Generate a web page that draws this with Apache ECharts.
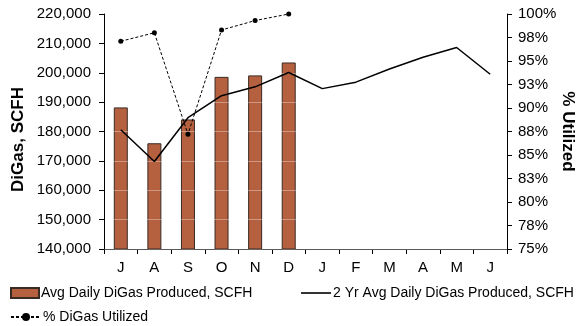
<!DOCTYPE html>
<html><head><meta charset="utf-8">
<script src="https://cdn.jsdelivr.net/npm/echarts@6/dist/echarts.min.js"></script>
<style>html,body{margin:0;padding:0;background:#fff}#c{width:584px;height:326px}</style>
</head><body><div id="c"></div>
<script>
const months = ['J','A','S','O','N','D','J','F','M','A','M','J'];
const avgDaily = [188200, 176000, 184100, 198600, 199100, 203500];
const twoYrAvg = [180600, 169800, 184700, 192200, 195200, 200100, 194600, 196800, 201300, 205300, 208600, 199500];
const pctUtilized = [97.1, 98.0, 87.2, 98.3, 99.3, 100.0];
const leftTicks = {min: 140000, max: 220000, interval: 10000};
const rightTicks = {min: 75, max: 100, interval: 2.5};

const font = 'Liberation Sans, Arial, sans-serif';
const chart = echarts.init(document.getElementById('c'), null, {renderer: 'canvas'});
chart.setOption({
  animation: false,
  textStyle: {fontFamily: font},
  grid: {left: 104, right: 77, top: 14, bottom: 77, containLabel: false, outerBoundsMode: 'none'},
  xAxis: {
    type: 'category', data: months, boundaryGap: true,
    axisLine: {lineStyle: {color: '#000', width: 1}},
    axisTick: {show: true, alignWithLabel: false, length: 5, lineStyle: {color: '#000'}},
    axisLabel: {color: '#000', fontSize: 15, fontFamily: font, margin: 11}
  },
  yAxis: [{
    type: 'value', min: leftTicks.min, max: leftTicks.max, interval: leftTicks.interval, z: 3,
    name: 'DiGas, SCFH', nameLocation: 'middle', nameGap: 77, nameRotate: 90, nameMoveOverlap: false,
    nameTextStyle: {fontWeight: 'bold', fontSize: 17, color: '#000', fontFamily: font, padding: [0, 16, 0, 0]},
    axisLine: {show: true, lineStyle: {color: '#000'}},
    axisTick: {show: true, length: 5, lineStyle: {color: '#000'}},
    axisLabel: {color: '#000', fontSize: 15, fontFamily: font, margin: 13,
      formatter: v => v.toLocaleString('en-US')},
    splitLine: {show: true, lineStyle: {color: 'rgba(255,255,255,0.35)', width: 1}}
  }, {
    type: 'value', min: rightTicks.min, max: rightTicks.max, interval: rightTicks.interval,
    position: 'right',
    name: '% Utilized', nameLocation: 'middle', nameGap: 52, nameRotate: -90, nameMoveOverlap: false,
    nameTextStyle: {fontWeight: 'bold', fontSize: 17, color: '#000', fontFamily: font},
    axisLine: {show: true, lineStyle: {color: '#000'}},
    axisTick: {show: true, length: 5, lineStyle: {color: '#000'}},
    axisLabel: {color: '#000', fontSize: 15, fontFamily: font, margin: 11,
      formatter: v => Math.round(v) + '%'},
    splitLine: {show: false}
  }],
  legend: [{
    left: 5, top: 281, itemWidth: 28, itemHeight: 10, itemGap: 10,
    textStyle: {fontSize: 14, color: '#000', fontFamily: font, padding: [0,0,0,-3]},
    data: [{name: 'Avg Daily DiGas Produced, SCFH', icon: 'rect'}]
  }, {
    left: 296, top: 281, itemWidth: 30, itemHeight: 1.6,
    textStyle: {fontSize: 14, color: '#000', fontFamily: font, padding: [0,0,0,-3]},
    data: [{name: '2 Yr Avg Daily DiGas Produced, SCFH', icon: 'rect'}]
  }, {
    left: 5, top: 305, itemWidth: 30, itemHeight: 10,
    textStyle: {fontSize: 14, color: '#000', fontFamily: font, padding: [0,0,0,-3]},
    data: [{name: '% DiGas Utilized'}]
  }],
  series: [{
    name: 'Avg Daily DiGas Produced, SCFH', type: 'bar', data: avgDaily, barWidth: 14,
    itemStyle: {color: '#B5603F', borderColor: '#3a2a24', borderWidth: 1}, z: 2
  }, {
    name: '2 Yr Avg Daily DiGas Produced, SCFH', type: 'line', data: twoYrAvg,
    showSymbol: false, symbol: 'none', lineStyle: {color: '#000', width: 1.5}, itemStyle: {color: '#000'}, z: 4
  }, {
    name: '% DiGas Utilized', type: 'line', yAxisIndex: 1, data: pctUtilized,
    symbol: 'circle', symbolSize: 5, lineStyle: {color: '#000', width: 1, type: [3, 2]},
    itemStyle: {color: '#000'}, z: 5
  }]
});
</script></body></html>
